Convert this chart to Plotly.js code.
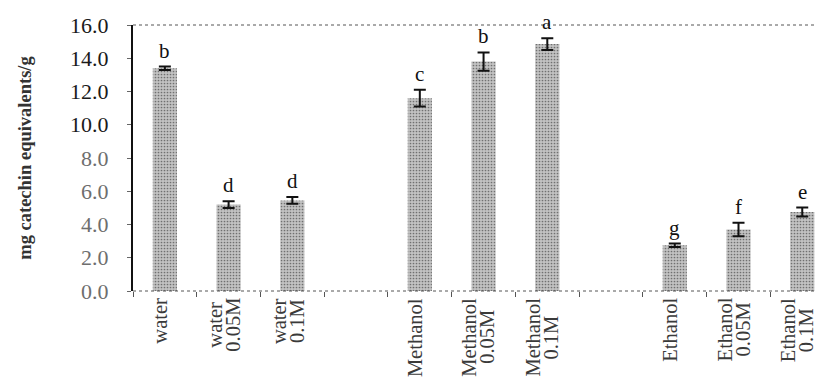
<!DOCTYPE html>
<html>
<head>
<meta charset="utf-8">
<script src="https://cdn.plot.ly/plotly-3.0.1.min.js"></script>
<style>html,body{margin:0;padding:0;background:#fff;}#chart{width:818px;height:381px;}</style>
</head>
<body>
<div id="chart"></div>
<script>
// categories (including two empty gap slots)
const categoryOrder = ["water", "water<br>0.05M", "water<br>0.1M", " ", "Methanol", "Methanol<br>0.05M", "Methanol<br>0.1M", "  ", "Ethanol", "Ethanol<br>0.05M", "Ethanol<br>0.1M"];
const barLabels = ["water", "water<br>0.05M", "water<br>0.1M", "Methanol", "Methanol<br>0.05M", "Methanol<br>0.1M", "Ethanol", "Ethanol<br>0.05M", "Ethanol<br>0.1M"];
const values = [13.4, 5.2, 5.45, 11.6, 13.8, 14.85, 2.75, 3.7, 4.75];
const errors = [0.1, 0.2, 0.2, 0.5, 0.55, 0.35, 0.1, 0.4, 0.27];
const letters = ["b", "d", "d", "c", "b", "a", "g", "f", "e"];
const yTickVals = [0, 2, 4, 6, 8, 10, 12, 14, 16];
const yTickText = ["0.0", "2.0", "4.0", "6.0", "8.0", "10.0", "12.0", "14.0", "16.0"];

const serif = "Liberation Serif, Times New Roman, serif";
const xLabelSize = 20.5;

const trace = {
  type: "bar",
  x: barLabels,
  y: values,
  width: 0.38,
  marker: {
    color: "#b4b4b4",
    line: {width: 0},
    pattern: {shape: ".", fgcolor: "#707070", bgcolor: "#c2c2c2", size: 3, solidity: 0.25}
  },
  error_y: {type: "data", array: errors, visible: true, color: "#111", thickness: 2, width: 6},
  hoverinfo: "skip"
};

const annotations = barLabels.map((c, i) => ({
  x: c, y: values[i] + errors[i], xref: "x", yref: "y",
  text: letters[i], showarrow: false, yanchor: "bottom", yshift: 2,
  font: {family: serif, size: 21, color: "#111"}
}));

// x category labels drawn as rotated text, one line at a time
const ctx = document.createElement("canvas").getContext("2d");
ctx.font = xLabelSize + "px 'Liberation Serif'";
barLabels.forEach(c => {
  const lines = c.split("<br>");
  const maxLen = Math.max(...lines.map(s => ctx.measureText(s).width));
  const center = 7 + maxLen / 2; // distance below axis line
  lines.forEach((s, j) => {
    annotations.push({
      x: c, xref: "x", y: 0, yref: "paper",
      text: s, showarrow: false, textangle: -90, borderpad: 0,
      xanchor: "center", yanchor: "middle",
      xshift: -5 + (j - (lines.length - 1) / 2) * 18,
      yshift: -center,
      font: {family: serif, size: xLabelSize, color: "#3a3a3a"}
    });
  });
});

// upper tick labels print dark, lower ones lighter (as in the scan)
const tickColors = yTickVals.map(v => v >= 10 ? "#1a1a1a" : "#6e6e6e");
const styledTickText = yTickText.map((t, i) => `<span style="fill:${tickColors[i]}">${t}</span>`);

const layout = {
  width: 818, height: 381,
  margin: {l: 133, r: 3, t: 25, b: 90},
  paper_bgcolor: "#fff", plot_bgcolor: "#fff",
  showlegend: false,
  font: {family: serif, color: "#111"},
  xaxis: {
    type: "category",
    categoryorder: "array", categoryarray: categoryOrder,
    range: [-0.5, 10.2],
    showgrid: false, zeroline: false, showline: false,
    ticks: "outside", tickson: "boundaries", ticklen: 5, tickcolor: "#555", tickwidth: 1,
    showticklabels: false,
    automargin: false
  },
  yaxis: {
    range: [0, 16],
    tickvals: yTickVals, ticktext: styledTickText,
    showgrid: false, zeroline: false,
    showline: true, linecolor: "#111", linewidth: 2,
    ticks: "outside", ticklen: 4, tickcolor: "#666",
    ticklabelstandoff: 14,
    tickfont: {family: serif, size: 22, color: "#222"},
    title: {text: "<b>mg catechin equivalents/g</b>", font: {family: serif, size: 18.5, color: "#333"}, standoff: 34},
    automargin: false
  },
  shapes: [
    {type: "line", xref: "paper", yref: "paper", x0: 0, x1: 1, y0: 1, y1: 1, line: {color: "#555", width: 1, dash: "dot"}},
    {type: "line", xref: "paper", yref: "paper", x0: 0, x1: 1, y0: 0, y1: 0, line: {color: "#555", width: 1, dash: "dot"}}
  ],
  annotations: annotations
};

Plotly.newPlot("chart", [trace], layout, {displayModeBar: false, staticPlot: true});
</script>
</body>
</html>
